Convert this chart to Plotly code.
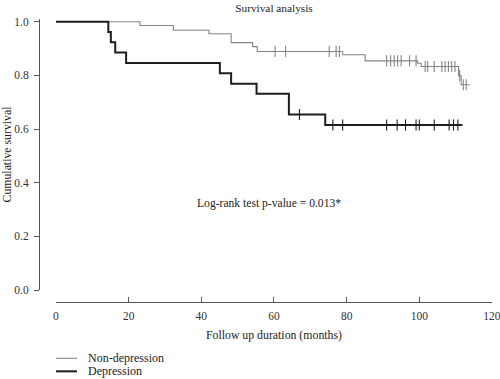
import plotly.graph_objects as go
import numpy as np

# Non-depression KM curve (event times, survival after event)
nd_time = [0, 23.1, 32.3, 42.1, 48.2, 54.1, 55.4, 78.9, 85.1, 99.5, 100.5, 110.8, 111.5, 113.9]
nd_surv = [1.0, 0.986, 0.968, 0.955, 0.922, 0.907, 0.889, 0.877, 0.854, 0.845, 0.833, 0.799, 0.765, 0.765]
nd_cens = [60.3, 63.2, 75.2, 77.1, 78.0, 91.0, 92.1, 93.1, 94.0, 95.0, 97.3, 99.1,
           101.6, 102.3, 104.1, 106.2, 107.1, 108.0, 108.9, 109.8, 111.1, 112.1, 112.9]

# Depression KM curve
d_time = [0, 14.4, 15.1, 16.3, 19.3, 45.1, 48.2, 55.2, 64.1, 74.1, 111.9]
d_surv = [1.0, 0.962, 0.923, 0.885, 0.846, 0.808, 0.769, 0.731, 0.654, 0.615, 0.615]
d_cens = [67.0, 76.2, 78.9, 91.0, 93.9, 96.2, 99.1, 100.0, 104.1, 108.2, 109.4, 110.6]

x_ticks = [0, 20, 40, 60, 80, 100, 120]
y_ticks = [0.0, 0.2, 0.4, 0.6, 0.8, 1.0]
y_ticklabels = ["0.0", "0.2", "0.4", "0.6", "0.8", "1.0"]

FONT = "Liberation Serif"
GRAY = "#858585"
BLACK = "#1e1e1e"


def surv_at(times, surv, t):
    idx = np.searchsorted(np.array(times), t, side="right") - 1
    return surv[max(idx, 0)]


fig = go.Figure()

fig.add_trace(go.Scatter(x=nd_time, y=nd_surv, mode="lines", line_shape="hv",
                         line=dict(color=GRAY, width=1.1), name="Non-depression",
                         showlegend=False))
fig.add_trace(go.Scatter(x=nd_cens, y=[surv_at(nd_time, nd_surv, t) for t in nd_cens],
                         mode="markers",
                         marker=dict(symbol="line-ns", size=8,
                                     line=dict(color=GRAY, width=1.1)),
                         showlegend=False, hoverinfo="skip"))
fig.add_trace(go.Scatter(x=d_time, y=d_surv, mode="lines", line_shape="hv",
                         line=dict(color=BLACK, width=2), name="Depression",
                         showlegend=False))
fig.add_trace(go.Scatter(x=d_cens, y=[surv_at(d_time, d_surv, t) for t in d_cens],
                         mode="markers",
                         marker=dict(symbol="line-ns", size=8,
                                     line=dict(color=BLACK, width=1.1)),
                         showlegend=False, hoverinfo="skip"))

fig.add_annotation(x=58.6, y=0.323, xref="x", yref="y",
                   text="Log-rank test p-value = 0.013*", showarrow=False,
                   font=dict(family=FONT, size=11.6, color="#222"))

# legend (manual)
legend_items = [("Non-depression", GRAY, 1.1, -0.199), ("Depression", BLACK, 2, -0.245)]
for name, col, w, yy in legend_items:
    fig.add_shape(type="line", xref="paper", yref="paper", x0=0.0375, x1=0.0839,
                  y0=yy, y1=yy, line=dict(color=col, width=w))
    fig.add_annotation(x=0.104, y=yy, xref="paper", yref="paper", text=name,
                       showarrow=False, xanchor="left", yanchor="middle",
                       font=dict(family=FONT, size=12, color="#222"))

fig.update_layout(
    width=500, height=379,
    margin=dict(l=39, r=8, t=19, b=77, autoexpand=False),
    paper_bgcolor="white", plot_bgcolor="white",
    font=dict(family=FONT, size=12, color="#333"),
    title=dict(text="Survival analysis", x=0.548, xanchor="center", y=0.99,
               yanchor="top", font=dict(family=FONT, size=11.3, color="#222")),
    xaxis=dict(domain=[0.0375, 1], range=[0, 120], anchor="free", position=0,
               automargin=False, ticklabeloverflow="allow", ticklabelstandoff=3,
               tickvals=x_ticks, ticks="inside", ticklen=5, tickcolor="#555",
               showline=True, linecolor="#555", linewidth=1, showgrid=False,
               zeroline=False, tickfont=dict(family=FONT, size=11.5, color="#333"),
               title=dict(text="Follow up duration (months)", standoff=9,
                          font=dict(family=FONT, size=11.8, color="#222"))),
    yaxis=dict(domain=[0.0424, 1], range=[0, 1.01], anchor="free", position=0,
               automargin=False, ticklabelstandoff=3,
               tickvals=y_ticks, ticktext=y_ticklabels, ticks="outside", ticklen=5,
               tickcolor="#555", showline=True, linecolor="#555", linewidth=1,
               showgrid=False, zeroline=False,
               tickfont=dict(family=FONT, size=11.5, color="#333"),
               title=dict(text="Cumulative survival", standoff=6,
                          font=dict(family=FONT, size=11.8, color="#222"))),
)

fig.write_html("out.html", config={"displayModeBar": False},
               post_script="document.body.style.margin='0';document.body.style.overflow='hidden';")
